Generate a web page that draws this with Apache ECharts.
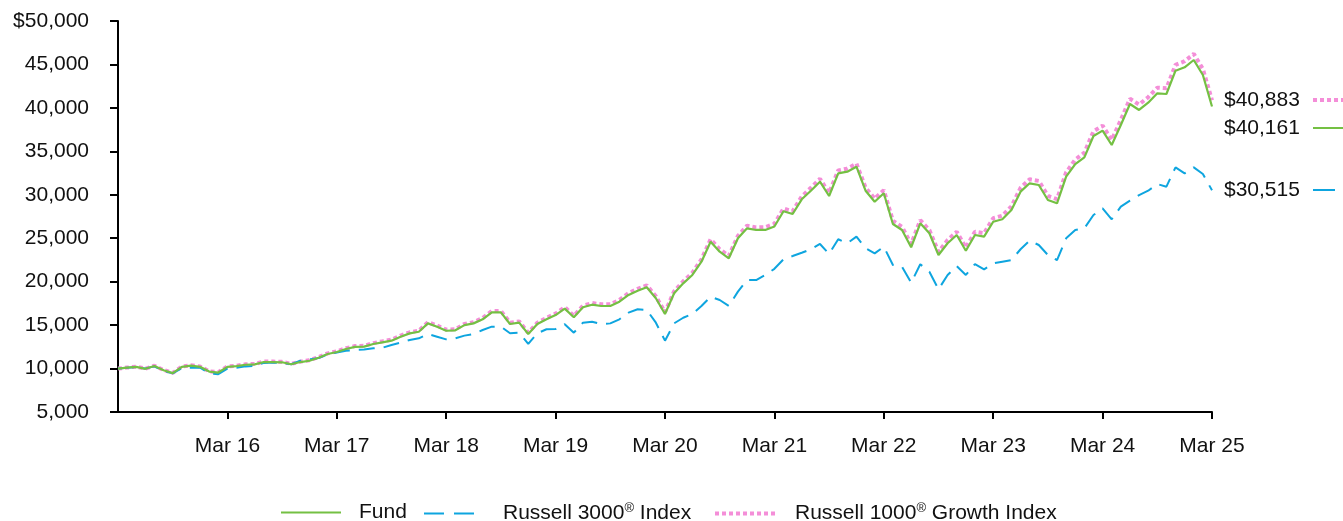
<!DOCTYPE html>
<html>
<head>
<meta charset="utf-8">
<title>Growth of $10,000</title>
<script src="https://cdn.jsdelivr.net/npm/echarts@6/dist/echarts.min.js"></script>
<style>
    html, body { margin: 0; padding: 0; background: #fff; }
    #chart { width: 1343px; height: 521px; }
</style>
</head>
<body>
<div id="chart"></div>
<script>
// 月度数据：2015年3月 ~ 2025年3月
const monthNames = ['Jan', 'Feb', 'Mar', 'Apr', 'May', 'Jun', 'Jul', 'Aug', 'Sep', 'Oct', 'Nov', 'Dec'];
const categories = [];
for (let k = 0; k < 121; k++) {
    const m = (2 + k) % 12;
    const y = 15 + Math.floor((2 + k) / 12);
    categories.push(monthNames[m] + ' ' + y);
}

const fundValues = [
    10000, 10100, 10200, 9970, 10300, 9800, 9480, 10200, 10330, 10200, 9650, 9540,
    10200, 10270, 10440, 10480, 10750, 10750, 10720, 10490, 10750, 10900, 11250, 11680,
    11900, 12250, 12500, 12520, 12830, 13020, 13210, 13670, 14050, 14240, 15200, 14820,
    14350, 14400, 15000, 15200, 15670, 16470, 16470, 15130, 15280, 13980, 15130, 15670,
    16160, 16900, 15900, 17050, 17350, 17200, 17200, 17700, 18470, 18960, 19350, 18090,
    16280, 18660, 19810, 20770, 22300, 24600, 23450, 22690, 24990, 26140, 25950, 25950,
    26350, 28100, 27790, 29480, 30470, 31510, 29860, 32470, 32660, 33230, 30470, 29200,
    30170, 26640, 25950, 23960, 26720, 25570, 23070, 24420, 25370, 23560, 25370, 25180,
    26900, 27180, 28250, 30360, 31320, 31130, 29400, 29020, 32080, 33540, 34310, 36760,
    37380, 35730, 38030, 40450, 39760, 40600, 41680, 41600, 44280, 44670, 45510, 43780,
    40161
];

const r3000Values = [
    10000, 10100, 10150, 10000, 10250, 9700, 9450, 10050, 10100, 10100, 9450, 9350,
    10000, 10100, 10250, 10300, 10650, 10700, 10650, 10500, 10900, 11050, 11200, 11650,
    11850, 12050, 12130, 12200, 12330, 12400, 12710, 12980, 13290, 13480, 13980, 13670,
    13360, 13480, 13790, 13980, 14440, 14820, 14820, 14060, 14130, 12830, 14060, 14520,
    14550, 15110, 14130, 15280, 15390, 15130, 15200, 15670, 16430, 16820, 16750, 15280,
    13210, 15200, 15850, 16280, 17200, 18270, 17890, 17200, 18850, 20190, 20190, 20770,
    21480, 22580, 22950, 23330, 23730, 24340, 23190, 24880, 24420, 25180, 23840, 23260,
    24020, 21920, 21720, 19880, 22000, 21150, 19120, 20770, 21800, 20770, 22030, 21420,
    22100, 22300, 22490, 23730, 24720, 24220, 23070, 22490, 24990, 25950, 26140, 27670,
    28440, 27180, 28630, 29320, 29970, 30470, 31240, 30930, 33160, 32470, 33160, 32390,
    30515
];

const r1000gValues = [
    10000, 10110, 10220, 9990, 10330, 9830, 9510, 10240, 10370, 10240, 9690, 9580,
    10250, 10320, 10490, 10530, 10800, 10800, 10770, 10540, 10800, 10960, 11310, 11750,
    11980, 12340, 12590, 12620, 12930, 13130, 13330, 13790, 14170, 14370, 15330, 14950,
    14480, 14530, 15140, 15340, 15820, 16620, 16620, 15280, 15430, 14120, 15280, 15830,
    16320, 17070, 16070, 17230, 17540, 17390, 17400, 17900, 18680, 19180, 19580, 18310,
    16480, 18890, 20050, 21020, 22570, 24880, 23730, 22970, 25280, 26440, 26250, 26260,
    26660, 28420, 28110, 29810, 30800, 31850, 30200, 32810, 33010, 33590, 30820, 29550,
    30530, 27000, 26310, 24320, 27080, 25930, 23430, 24790, 25740, 23930, 25750, 25570,
    27300, 27590, 28670, 30800, 31780, 31600, 29870, 29500, 32580, 34060, 34840, 37310,
    37950, 36310, 38620, 41060, 40380, 41230, 42330, 42260, 44960, 45370, 46220, 44480,
    40883
];

const seriesNames = ['Fund', 'Russell 3000® Index', 'Russell 1000® Growth Index'];
const endLabels = ['$40,161', '$30,515', '$40,883'];

const FONT = "'Liberation Sans', Arial, sans-serif";
const GREEN = '#74c043';
const BLUE = '#0ea5df';
const PINK = '#f48ed8';

const chart = echarts.init(document.getElementById('chart'));

function legendFor(name, left, width, gap, lineStyle) {
    return {
        data: [name],
        left: left,
        top: 502,
        itemWidth: width,
        itemHeight: 14,
        padding: 0,
        selectedMode: false,
        itemStyle: { opacity: 0 },
        lineStyle: lineStyle,
        formatter: function(n) {
            return n.replace('®', '{sup|®}');
        },
        textStyle: {
            fontFamily: FONT,
            fontSize: 21,
            color: '#111',
            padding: [0, 0, 0, gap],
            rich: {
                sup: { fontFamily: FONT, fontSize: 13, color: '#111', verticalAlign: 'top', padding: [0, 0, 10, 0] }
            }
        }
    };
}

const isYearTick = function(i) { return i > 0 && i % 12 === 0; };

const option = {
    animation: false,
    backgroundColor: '#fff',
    grid: { left: 118, right: 131, top: 21, bottom: 109, containLabel: false },
    legend: [
        legendFor(seriesNames[0], 280, 60, 13, { width: 2 }),
        legendFor(seriesNames[1], 423, 50, 24, { width: 2, type: [20, 10] }),
        legendFor(seriesNames[2], 713, 60, 15, { width: 4, type: [4, 3] })
    ],
    xAxis: {
        type: 'category',
        data: categories,
        boundaryGap: false,
        axisLine: { lineStyle: { color: '#000', width: 2 } },
        axisTick: { show: true, interval: isYearTick, length: 7, lineStyle: { color: '#000', width: 2 } },
        axisLabel: {
            interval: isYearTick,
            margin: 24,
            fontFamily: FONT,
            fontSize: 21,
            color: '#111'
        },
        splitLine: { show: false }
    },
    yAxis: {
        type: 'value',
        min: 5000,
        max: 50000,
        interval: 5000,
        axisLine: { show: true, lineStyle: { color: '#000', width: 2 } },
        axisTick: { show: true, length: 8, lineStyle: { color: '#000', width: 2 } },
        axisLabel: {
            margin: 29,
            fontFamily: FONT,
            fontSize: 21,
            color: '#111',
            formatter: function(v) {
                const s = v.toLocaleString('en-US');
                return v === 50000 ? '$' + s : s;
            }
        },
        splitLine: { show: false }
    },
    series: [
        {
            name: seriesNames[2],
            type: 'line',
            data: r1000gValues,
            symbol: 'none',
            z: 2,
            lineStyle: { color: PINK, width: 4, type: [4, 3] },
            itemStyle: { color: PINK },
            endLabel: {
                show: true,
                distance: 12,
                formatter: endLabels[2],
                fontFamily: FONT, fontSize: 21, color: '#111'
            }
        },
        {
            name: seriesNames[1],
            type: 'line',
            data: r3000Values,
            symbol: 'none',
            z: 3,
            lineStyle: { color: BLUE, width: 2, type: [16, 9] },
            itemStyle: { color: BLUE },
            endLabel: {
                show: true,
                distance: 12,
                formatter: endLabels[1],
                fontFamily: FONT, fontSize: 21, color: '#111'
            }
        },
        {
            name: seriesNames[0],
            type: 'line',
            data: fundValues,
            symbol: 'none',
            z: 4,
            lineStyle: { color: GREEN, width: 2.2 },
            itemStyle: { color: GREEN },
            endLabel: {
                show: true,
                distance: 12,
                offset: [0, 22],
                formatter: endLabels[0],
                fontFamily: FONT, fontSize: 21, color: '#111'
            }
        }
    ]
};

chart.setOption(option);

// 右侧标签后的线型示例
const last = categories.length - 1;
const samples = [
    { v: r1000gValues[last], dy: 0, style: { stroke: PINK, lineWidth: 4, lineDash: [4, 3] } },
    { v: fundValues[last], dy: 22, style: { stroke: GREEN, lineWidth: 2 } },
    { v: r3000Values[last], dy: 0, style: { stroke: BLUE, lineWidth: 2, lineDash: [22, 9] } }
];
const graphics = samples.map(function(s) {
    const p = chart.convertToPixel({ gridIndex: 0 }, [last, s.v]);
    const y = Math.round(p[1] + s.dy);
    return {
        type: 'line',
        shape: { x1: p[0] + 101, y1: y, x2: p[0] + 131, y2: y },
        style: s.style,
        silent: true
    };
});
chart.setOption({ graphic: graphics });
</script>
</body>
</html>
